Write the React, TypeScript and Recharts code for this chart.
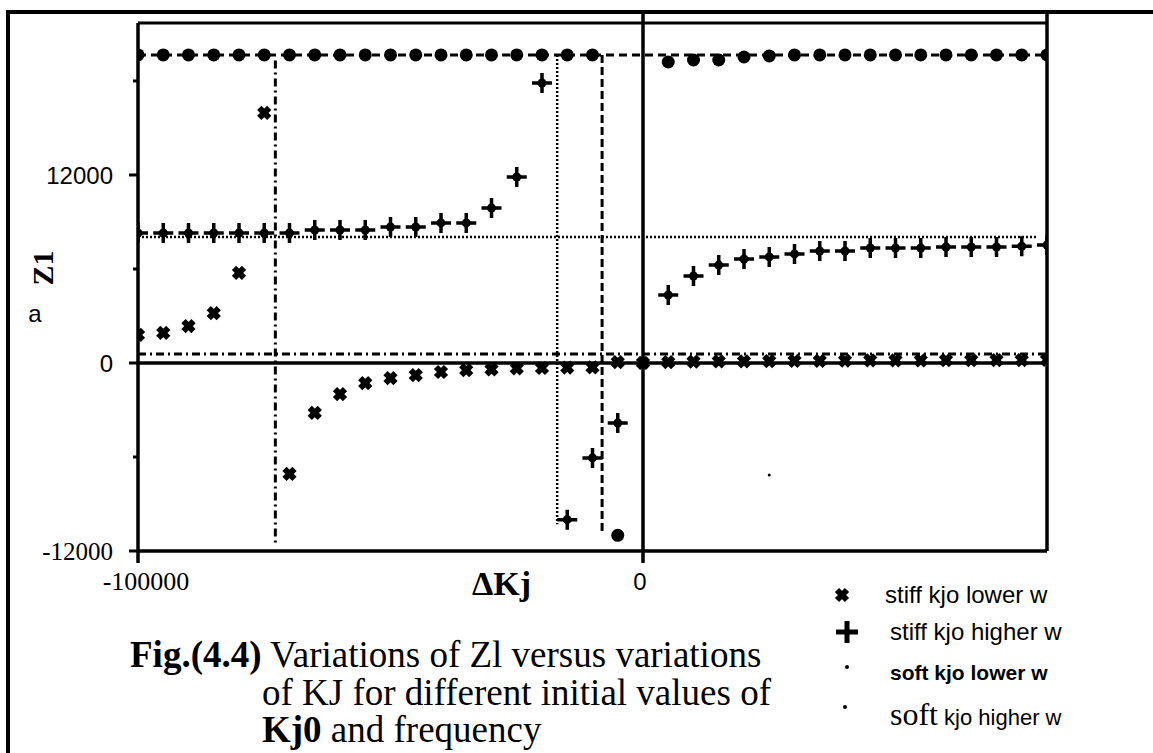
import { ScatterChart, Scatter, XAxis, YAxis, ReferenceLine } from 'recharts';

const serif = 'Liberation Serif, Times New Roman, serif';
const sans = 'Liberation Sans, Arial, sans-serif';

// ΔKj positions (step 5000) and Z1 values
const softLowerKj = [-100000, -95000, -90000, -85000, -80000, -75000, -70000, -65000, -60000, -55000, -50000, -45000, -40000, -35000, -30000, -25000, -20000, -15000, -10000, -5000, 5000, 10000, 15000, 20000, 25000, 30000, 35000, 40000, 45000, 50000, 55000, 60000, 65000, 70000, 75000, 80000];
const softLowerZ = [19660, 19660, 19660, 19660, 19660, 19660, 19660, 19660, 19660, 19660, 19660, 19660, 19660, 19660, 19660, 19660, 19660, 19660, 19660, -11000, 19210, 19340, 19340, 19530, 19600, 19660, 19660, 19660, 19660, 19660, 19660, 19660, 19660, 19660, 19660, 19660];

const stiffLowerKj = [-100000, -95000, -90000, -85000, -80000, -75000, -70000, -65000, -60000, -55000, -50000, -45000, -40000, -35000, -30000, -25000, -20000, -15000, -10000, -5000, 0, 5000, 10000, 15000, 20000, 25000, 30000, 35000, 40000, 45000, 50000, 55000, 60000, 65000, 70000, 75000, 80000];
const stiffLowerZ = [1790, 1915, 2360, 3190, 5745, 15960, -7085, -3190, -1980, -1280, -960, -770, -575, -450, -400, -350, -320, -300, -280, 50, 0, 60, 80, 100, 110, 120, 130, 140, 150, 160, 170, 170, 180, 180, 190, 190, 200];

const stiffHigherKj = [-100000, -95000, -90000, -85000, -80000, -75000, -70000, -65000, -60000, -55000, -50000, -45000, -40000, -35000, -30000, -25000, -20000, -15000, -10000, -5000, 5000, 10000, 15000, 20000, 25000, 30000, 35000, 40000, 45000, 50000, 55000, 60000, 65000, 70000, 75000, 80000];
const stiffHigherZ = [8300, 8300, 8300, 8300, 8300, 8300, 8300, 8490, 8490, 8490, 8680, 8680, 8940, 8940, 9890, 11870, 17870, -10000, -6060, -3830, 4340, 5550, 6250, 6640, 6770, 6960, 7150, 7150, 7340, 7340, 7340, 7400, 7400, 7400, 7450, 7530];

const softHigherKj = [25000];
const softHigherZ = [-7150];

// asymptotes
const softLowerLevel = 19660;
const softLowerPole = -8100;
const stiffHigherLevel = 8040;
const stiffHigherPole = -17000;
const stiffLowerLevel = 575;
const stiffLowerPole = -72800;

const kjMin = -100000;
const kjMax = 80000;
const zMin = -12000;
const zMax = 21700;
const frameTop = 22400;

const yTicks = [-12000, -6000, 0, 6000, 12000, 18000];
const xTicks = [-100000, 0];

const zip = (xs: number[], ys: number[]) => xs.map((x, i) => ({ x, y: ys[i] }));

const CircleMark = (p: any) => <circle cx={p.cx} cy={p.cy} r={6.5} fill="#000" />;
const CrossMark = (p: any) => (
  <path d={`M${p.cx - 5},${p.cy - 5}L${p.cx + 5},${p.cy + 5}M${p.cx + 5},${p.cy - 5}L${p.cx - 5},${p.cy + 5}`} stroke="#000" strokeWidth={6} />
);
const PlusMark = (p: any) => (
  <g>
    <path d={`M${p.cx - 10},${p.cy}H${p.cx + 10}M${p.cx},${p.cy - 10}V${p.cy + 10}`} stroke="#000" strokeWidth={3.5} />
    <circle cx={p.cx} cy={p.cy} r={4.5} fill="#000" />
  </g>
);
const DotMark = (p: any) => <circle cx={p.cx} cy={p.cy} r={1.5} fill="#000" />;

const YTick = (props: any) => {
  const { x, y, payload } = props;
  const v = Number(payload.value);
  const major = v % 12000 === 0;
  return (
    <g>
      <line x1={x - (major ? 9 : 5)} x2={x} y1={y} y2={y} stroke="#000" strokeWidth={3} />
      {major && (
        <text x={x - 25} y={y} dy="0.36em" textAnchor="end" fill="#000"
          fontFamily={v < 0 ? serif : sans} fontSize={v < 0 ? 25 : 24}>
          {v}
        </text>
      )}
    </g>
  );
};

const XTick = (props: any) => {
  const { x, y, payload } = props;
  const v = Number(payload.value);
  return (
    <g>
      <line x1={x} x2={x} y1={y} y2={y + 12} stroke="#000" strokeWidth={3.5} />
      <text x={v < 0 ? x + 8 : x - 3} y={y + 39} textAnchor="middle" fill="#000"
        fontFamily={v < 0 ? serif : sans} fontSize={v < 0 ? 26 : 24}>
        {v}
      </text>
    </g>
  );
};

export default function App() {
  return (
    <div style={{ position: 'absolute', left: 0, top: 0, width: 1153, height: 753, background: '#fff' }}>
      <ScatterChart width={1153} height={753} margin={{ top: 23, right: 106, bottom: 0, left: 0 }}>
        <XAxis type="number" dataKey="x" domain={[kjMin, kjMax]} ticks={xTicks} interval={0} allowDataOverflow
          height={202} tickSize={0} tickMargin={0} tick={<XTick />} axisLine={{ stroke: '#000', strokeWidth: 3.5 }} />
        <YAxis type="number" dataKey="y" domain={[zMin, zMax]} ticks={yTicks} interval={0} allowDataOverflow
          width={138} tickSize={0} tickMargin={0} tick={<YTick />} axisLine={{ stroke: '#000', strokeWidth: 3.5 }} />

        <ReferenceLine y={zMax} stroke="#000" strokeWidth={3} />
        <ReferenceLine y={0} stroke="#000" strokeWidth={3.5} />
        <ReferenceLine ifOverflow="visible" segment={[{ x: 0, y: zMin }, { x: 0, y: frameTop }]} stroke="#000" strokeWidth={3.5} />
        <ReferenceLine ifOverflow="visible" segment={[{ x: kjMax, y: zMin }, { x: kjMax, y: frameTop }]} stroke="#000" strokeWidth={3.5} />

        <ReferenceLine y={softLowerLevel} stroke="#000" strokeWidth={3} strokeDasharray="8 5" />
        <ReferenceLine segment={[{ x: softLowerPole, y: softLowerLevel }, { x: softLowerPole, y: -10800 }]} stroke="#000" strokeWidth={3} strokeDasharray="8 4" />
        <ReferenceLine segment={[{ x: kjMin, y: stiffHigherLevel }, { x: 78000, y: stiffHigherLevel }]} stroke="#000" strokeWidth={2.5} strokeDasharray="2 2" />
        <ReferenceLine segment={[{ x: stiffHigherPole, y: softLowerLevel }, { x: stiffHigherPole, y: -10300 }]} stroke="#000" strokeWidth={2.5} strokeDasharray="2 2" />
        <ReferenceLine y={stiffLowerLevel} stroke="#000" strokeWidth={3} strokeDasharray="8 4 2 4" />
        <ReferenceLine segment={[{ x: stiffLowerPole, y: 19300 }, { x: stiffLowerPole, y: -11500 }]} stroke="#000" strokeWidth={3} strokeDasharray="8 4 2 4" />

        <Scatter name="stiff kjo lower w" data={zip(stiffLowerKj, stiffLowerZ)} shape={CrossMark} isAnimationActive={false} />
        <Scatter name="stiff kjo higher w" data={zip(stiffHigherKj, stiffHigherZ)} shape={PlusMark} isAnimationActive={false} />
        <Scatter name="soft kjo lower w" data={zip(softLowerKj, softLowerZ)} shape={CircleMark} isAnimationActive={false} />
        <Scatter name="soft kjo higher w" data={zip(softHigherKj, softHigherZ)} shape={DotMark} isAnimationActive={false} />
      </ScatterChart>

      <svg width={1153} height={753} style={{ position: 'absolute', left: 0, top: 0, pointerEvents: 'none' }}>
        <line x1={6} x2={1153} y1={12} y2={12} stroke="#000" strokeWidth={4} />
        <line x1={8} x2={8} y1={10} y2={753} stroke="#000" strokeWidth={4} />

        <text transform="translate(42,268) rotate(-90)" textAnchor="middle" dominantBaseline="central" fontFamily={serif} fontWeight="bold" fontSize={30}>Z1</text>
        <text x={35} y={313} textAnchor="middle" dominantBaseline="central" fontFamily={sans} fontSize={24}>a</text>
        <text x={472} y={595} fontFamily={serif} fontWeight="bold" fontSize={34}>ΔKj</text>

        <text x={130} y={667} fontFamily={serif} fontSize={37}>
          <tspan fontWeight="bold">Fig.(4.4)</tspan> Variations of Zl versus variations
        </text>
        <text x={262} y={705} fontFamily={serif} fontSize={37}>of KJ for different initial values of</text>
        <text x={262} y={742} fontFamily={serif} fontSize={37}>
          <tspan fontWeight="bold">Kj0</tspan> and frequency
        </text>

        <path d="M837,590L847,600M847,590L837,600" stroke="#000" strokeWidth={6} />
        <text x={885} y={603} fontFamily={sans} fontSize={24}>stiff kjo lower w</text>
        <path d="M836,632H858M847,621V643" stroke="#000" strokeWidth={5} />
        <text x={890} y={640} fontFamily={sans} fontSize={24}>stiff kjo higher w</text>
        <circle cx={847} cy={667} r={2} fill="#000" />
        <text x={890} y={680} fontFamily={sans} fontWeight="bold" fontSize={21}>soft kjo lower w</text>
        <circle cx={845} cy={707} r={2} fill="#000" />
        <text x={890} y={725} fontSize={22} fontFamily={sans}>
          <tspan fontFamily={serif} fontSize={32}>soft</tspan> kjo higher w
        </text>
      </svg>
    </div>
  );
}
